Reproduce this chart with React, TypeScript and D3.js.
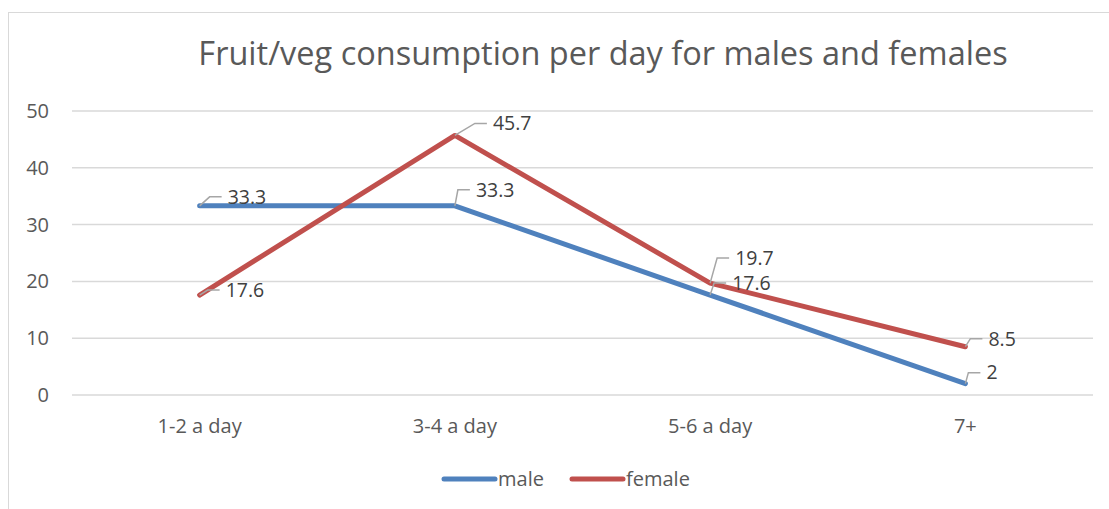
import React from "react";
import * as d3 from "d3";

const categories = ["1-2 a day", "3-4 a day", "5-6 a day", "7+"];
const maleValues = [33.3, 33.3, 17.6, 2];
const femaleValues = [17.6, 45.7, 19.7, 8.5];
const yTicks = [0, 10, 20, 30, 40, 50];

// leader offsets for the data labels (dx,dy of the bend)
const maleLabelOffsets = [[10, -9], [3, -16], [4, -12], [3, -11]];
const femaleLabelOffsets = [[8, -5], [20, -12], [7, -25], [5, -8]];

const W = 1109;
const H = 509;
const font = "Open Sans, sans-serif";

export default function App() {
  const x = d3.scalePoint().domain(categories).range([72, 1093]).padding(0.5);
  const y = d3.scaleLinear().domain([0, 50]).range([395, 111]);

  const line = d3
    .line<number>()
    .x((d, i) => x(categories[i]) as number)
    .y((d) => y(d));

  const series = [
    { name: "male", values: maleValues, color: "#4F81BD", offs: maleLabelOffsets },
    { name: "female", values: femaleValues, color: "#C0504D", offs: femaleLabelOffsets },
  ];

  return (
    <div style={{ position: "absolute", left: 0, top: 0 }}>
      <svg width={W} height={H} style={{ display: "block", background: "#fff" }}>
        <rect x={8.5} y={12.5} width={W + 10} height={H + 10} fill="#fff" stroke="#d9d9d9" strokeWidth={1} />
        <text
          x={603}
          y={54}
          dy="0.35em"
          textAnchor="middle"
          fontFamily={font}
          fontSize={32.5}
          fill="#595959"
        >
          Fruit/veg consumption per day for males and females
        </text>

        {yTicks.map((t) => (
          <g key={t}>
            <line x1={72} x2={1093} y1={y(t)} y2={y(t)} stroke="#d9d9d9" strokeWidth={1.5} />
            <text
              x={49}
              y={y(t)}
              dy="0.35em"
              textAnchor="end"
              fontFamily={font}
              fontSize={20}
              fill="#595959"
            >
              {t}
            </text>
          </g>
        ))}

        {categories.map((c) => (
          <text
            key={c}
            x={x(c)}
            y={426}
            dy="0.35em"
            textAnchor="middle"
            fontFamily={font}
            fontSize={20}
            fill="#595959"
          >
            {c}
          </text>
        ))}

        {series.map((s) => (
          <path
            key={s.name}
            d={line(s.values) as string}
            fill="none"
            stroke={s.color}
            strokeWidth={5}
            strokeLinecap="round"
            strokeLinejoin="round"
          />
        ))}

        {series.map((s) =>
          s.values.map((v, i) => {
            const px = x(categories[i]) as number;
            const py = y(v);
            const [dx, dy] = s.offs[i];
            const bx = px + dx;
            const by = py + dy;
            return (
              <g key={s.name + i}>
                <polyline
                  points={`${px},${py} ${bx},${by} ${bx + 12},${by}`}
                  fill="none"
                  stroke="#a6a6a6"
                  strokeWidth={1.5}
                />
                <text
                  x={bx + 18}
                  y={by}
                  dy="0.35em"
                  fontFamily={font}
                  fontSize={19.5}
                  fill="#404040"
                >
                  {v}
                </text>
              </g>
            );
          })
        )}

        {series.map((s, i) => {
          const lx = i === 0 ? 444 : 572;
          return (
            <g key={s.name}>
              <line
                x1={lx}
                x2={lx + 51}
                y1={479}
                y2={479}
                stroke={s.color}
                strokeWidth={5}
                strokeLinecap="round"
              />
              <text
                x={lx + 54}
                y={479}
                dy="0.35em"
                fontFamily={font}
                fontSize={20}
                fill="#595959"
              >
                {s.name}
              </text>
            </g>
          );
        })}
      </svg>
    </div>
  );
}
